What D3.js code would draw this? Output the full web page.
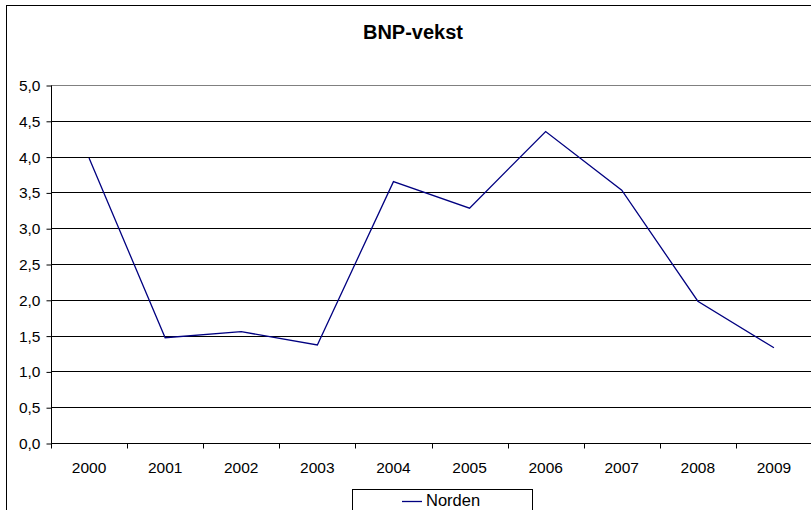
<!DOCTYPE html>
<html>
<head>
<meta charset="utf-8">
<script src="https://cdn.jsdelivr.net/npm/d3@7"></script>
<style>
  html, body { margin: 0; padding: 0; background: #fff; }
  svg { display: block; }
  text { font-family: "Liberation Sans", Arial, sans-serif; }
</style>
</head>
<body>
<svg id="chart" width="811" height="510"></svg>
<script>
const title = "BNP-vekst";
const years = ["2000","2001","2002","2003","2004","2005","2006","2007","2008","2009"];
const norden = [3.98, 1.47, 1.555, 1.37, 3.65, 3.28, 4.35, 3.53, 1.98, 1.33];
const yTicks = [0, 0.5, 1, 1.5, 2, 2.5, 3, 3.5, 4, 4.5, 5];
const seriesName = "Norden";

(function () {
const svg = d3.select("#chart");
const pLeft = 51, pRight = 812, pTop = 85, pBottom = 443;

// outer chart border (extends past the right/bottom edges)
svg.append("rect").attr("x", 6.5).attr("y", 5.5).attr("width", 900).attr("height", 600)
  .attr("fill", "#fff").attr("stroke", "#000").attr("stroke-width", 1);

const x = d3.scaleBand().domain(years).range([pLeft, pRight]).paddingInner(0).paddingOuter(0);
const y = d3.scaleLinear().domain([0, 5]).range([pBottom, pTop]);

// gridlines
svg.append("g").selectAll("line").data(yTicks.filter(v => v > 0 && v < 5)).join("line")
  .attr("x1", pLeft).attr("x2", pRight)
  .attr("y1", d => Math.round(y(d)) + 0.5).attr("y2", d => Math.round(y(d)) + 0.5)
  .attr("stroke", "#000").attr("stroke-width", 1);
// top plot border (gray)
svg.append("line").attr("x1", pLeft).attr("x2", pRight)
  .attr("y1", Math.round(y(5)) + 0.5).attr("y2", Math.round(y(5)) + 0.5)
  .attr("stroke", "#808080").attr("stroke-width", 1);

// y axis
const yAxis = d3.axisLeft(y).tickValues(yTicks).tickSize(5).tickPadding(6)
  .tickFormat(d => d.toFixed(1).replace(".", ","));
const gy = svg.append("g").attr("transform", `translate(${pLeft + 0.5},0.5)`).call(yAxis);
gy.select(".domain").attr("stroke", "#000").attr("d", `M0,${pTop}V${pBottom}`);
gy.selectAll(".tick line").attr("stroke", "#000");
gy.selectAll("text").attr("font-size", 15.5).attr("fill", "#000");

// x axis
const gx = svg.append("g").attr("transform", `translate(0,${Math.round(pBottom) + 0.5})`);
gx.append("line").attr("x1", pLeft).attr("x2", pRight).attr("stroke", "#000");
const bounds = years.map(d => x(d)).concat([x(years[years.length - 1]) + x.bandwidth()]);
gx.selectAll("line.tk").data(bounds).join("line").attr("class", "tk")
  .attr("x1", d => Math.round(d) + 0.5).attr("x2", d => Math.round(d) + 0.5)
  .attr("y1", 0).attr("y2", 5).attr("stroke", "#000");
gx.selectAll("text").data(years).join("text")
  .attr("x", d => x(d) + x.bandwidth() / 2).attr("y", 29.5)
  .attr("text-anchor", "middle").attr("font-size", 15.5).attr("fill", "#000")
  .text(d => d);

// line
const line = d3.line()
  .x((d, i) => x(years[i]) + x.bandwidth() / 2)
  .y(d => y(d));
svg.append("path").datum(norden).attr("d", line)
  .attr("fill", "none").attr("stroke", "#000080").attr("stroke-width", 1.3)
  .attr("stroke-linejoin", "miter");

// title
svg.append("text").attr("x", 413).attr("y", 39).attr("text-anchor", "middle")
  .attr("font-size", 20).attr("font-weight", "bold").attr("fill", "#000").text(title);

// legend
const lg = svg.append("g");
lg.append("rect").attr("x", 352.5).attr("y", 489.5).attr("width", 180).attr("height", 40)
  .attr("fill", "#fff").attr("stroke", "#000").attr("stroke-width", 1);
lg.append("line").attr("x1", 402).attr("x2", 422).attr("y1", 501.5).attr("y2", 501.5)
  .attr("stroke", "#000080").attr("stroke-width", 1.3);
lg.append("text").attr("x", 426).attr("y", 505.5).attr("font-size", 16.5).attr("fill", "#000")
  .text(seriesName);
})();
</script>
</body>
</html>
